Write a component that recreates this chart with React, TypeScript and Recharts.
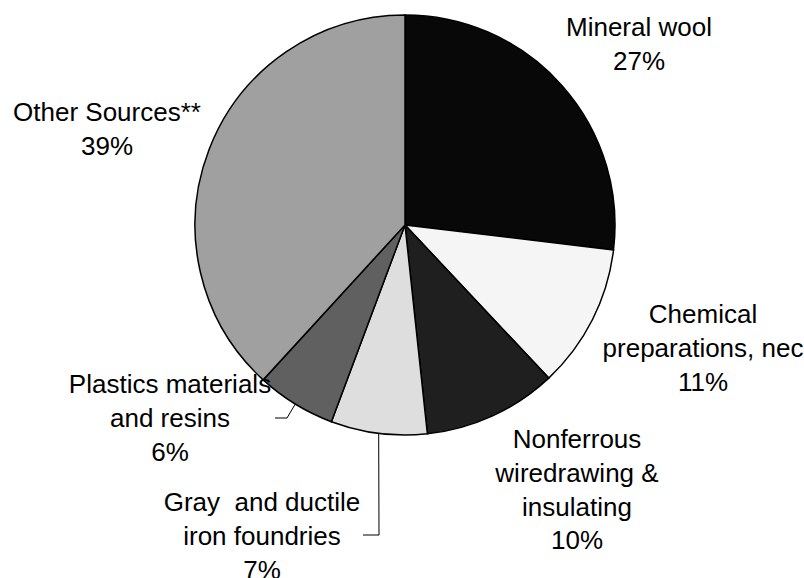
import React from "react";
import { PieChart, Pie, Cell } from "recharts";

const categories = [
  "Mineral wool",
  "Chemical\npreparations, nec",
  "Nonferrous\nwiredrawing &\ninsulating",
  "Gray  and ductile\niron foundries",
  "Plastics materials\nand resins",
  "Other Sources**",
];
const shares = [26.9, 11.1, 10.3, 7.4, 6.1, 38.2];
const shareLabels = ["27%", "11%", "10%", "7%", "6%", "39%"];
const colors = ["#080808", "#f5f5f5", "#1f1f1f", "#dedede", "#606060", "#a0a0a0"];

const data = categories.map((name, i) => ({ name, value: shares[i], label: shareLabels[i] }));

// label block placement relative to pie centre (centre x, first line centre y)
const labelOffsets = [
  [234, -198],
  [298, 89],
  [172, 214],
  [-143, 277],
  [-235, 159],
  [-298, -113],
];
// leader elbows relative to pie centre (only for small slices)
const leaders: Record<number, number[][]> = {
  3: [[-26, 310], [-42, 310]],
  4: [[-118, 193], [-130, 193]],
};

const RAD = Math.PI / 180;
const FS = 26;
const LH = 33.6;

const renderLabel = (props: any) => {
  const { cx, cy, midAngle, outerRadius, index } = props;
  const [dx, dy] = labelOffsets[index];
  const lines = [...categories[index].split("\n"), shareLabels[index]];
  const x = cx + dx;
  const y0 = cy + dy;
  const els: any[] = [];
  const lead = leaders[index];
  if (lead) {
    const sx = cx + Math.cos(-midAngle * RAD) * outerRadius;
    const sy = cy + Math.sin(-midAngle * RAD) * outerRadius;
    const pts = [[sx, sy], ...lead.map(([a, b]) => [cx + a, cy + b])];
    els.push(
      <polyline
        key="l"
        points={pts.map((p) => p.join(",")).join(" ")}
        fill="none"
        stroke="#000"
        strokeWidth={1}
      />
    );
  }
  els.push(
    <text
      key="t"
      fontFamily="'Liberation Sans', Arial, sans-serif"
      fontSize={FS}
      fill="#000"
      textAnchor="middle"
      style={{ whiteSpace: "pre" }}
    >
      {lines.map((ln, i) => (
        <tspan key={i} x={x} y={y0 + i * LH + FS * 0.358}>
          {ln}
        </tspan>
      ))}
    </text>
  );
  return <g key={`lbl-${index}`}>{els}</g>;
};

export default function App() {
  return (
    <div style={{ position: "absolute", left: 0, top: 0, width: 804, height: 578, background: "#fff" }}>
      <PieChart width={804} height={578} margin={{ top: 0, right: 0, bottom: 0, left: 0 }}>
        <Pie
          data={data}
          dataKey="value"
          nameKey="name"
          cx={405}
          cy={225}
          outerRadius={210}
          startAngle={90}
          endAngle={-270}
          stroke="#000"
          strokeWidth={1.5}
          label={renderLabel}
          labelLine={false}
          isAnimationActive={false}
        >
          {data.map((d, i) => (
            <Cell key={d.name} fill={colors[i]} />
          ))}
        </Pie>
      </PieChart>
    </div>
  );
}
